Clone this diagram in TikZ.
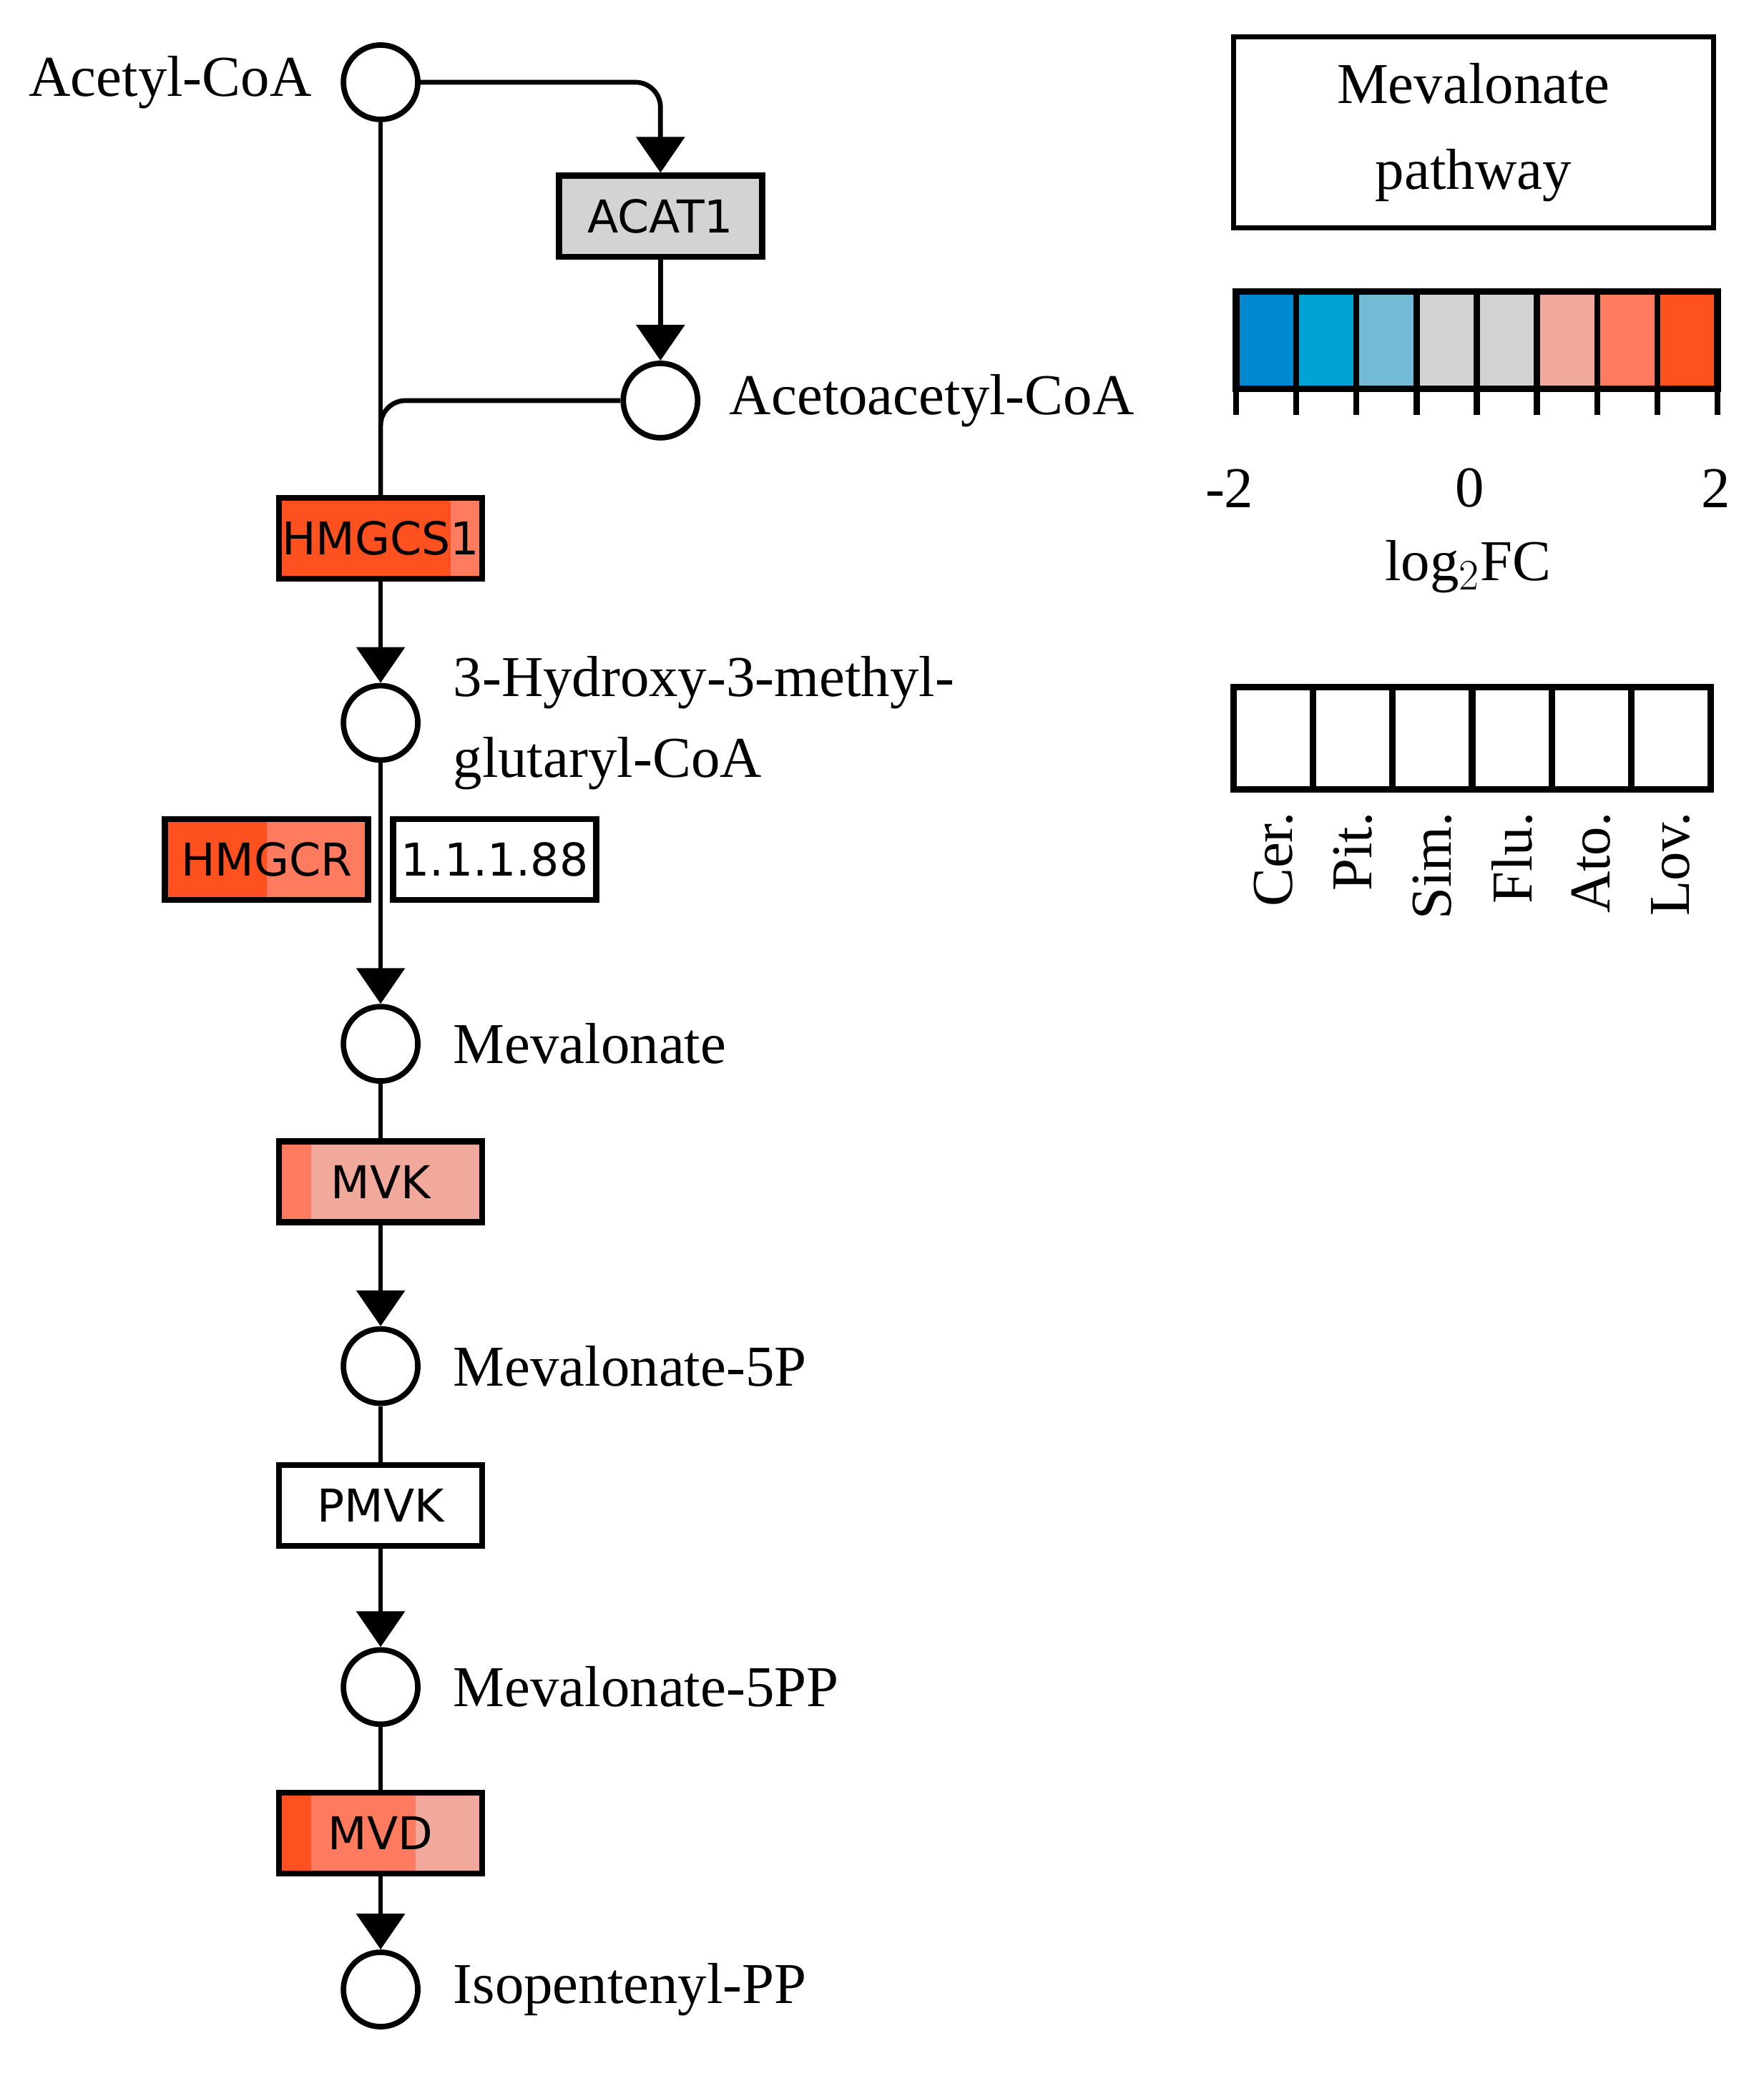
\documentclass[tikz,border=0pt]{standalone}
\usepackage{fontspec}
\setmainfont{Liberation Serif}
\newfontfamily\genefont{DejaVu Sans}
\usetikzlibrary{positioning,calc,arrows.meta}
\definecolor{fcA}{HTML}{0088D1}
\definecolor{fcB}{HTML}{00A3D3}
\definecolor{fcC}{HTML}{73BAD6}
\definecolor{fcD}{HTML}{D3D3D3}
\definecolor{fcE}{HTML}{F1A99B}
\definecolor{fcF}{HTML}{FF7B5F}
\definecolor{fcG}{HTML}{FF5020}
\tikzset{
  cpd/.style={circle, draw, line width=2.2pt, minimum size=1.04cm, inner sep=0pt},
  gene/.style={draw, line width=2.4pt, minimum width=2.84cm, minimum height=1.13cm, inner sep=0pt, font=\genefont\fontsize{18}{20}\selectfont},
  lbl/.style={font=\fontsize{23}{28}\selectfont, inner sep=0pt},
  link/.style={line width=1.9pt, rounded corners=0.35cm},
  rxn/.style={link, -{Triangle[width=0.67cm,length=0.5cm]}},
}
% six-part fill of a gene box
\newcommand{\genefill}[2]{%
  \foreach \c [count=\i from 0] in {#2} {
    \fill[\c] ($(#1.south west)!{\i/6}!(#1.south east)$) rectangle ($(#1.north west)!{(\i+1)/6}!(#1.north east)$);
  }}
\begin{document}
\begin{tikzpicture}[x=0.01854cm, y=-0.01854cm]
\useasboundingbox (0,0) rectangle (1330,1572.8);
% compounds
\node[cpd] (acoa) at (287,62) {};
\node[cpd] (aacoa) at (498,302) {};
\node[cpd] (hmgcoa) at (287,545) {};
\node[cpd] (mev) at (287,787) {};
\node[cpd] (mev5p) at (287,1030) {};
\node[cpd] (mev5pp) at (287,1272) {};
\node[cpd] (ipp) at (287,1500) {};
\node[lbl, left=0.4cm of acoa] {Acetyl-CoA};
\node[lbl, right=0.4cm of aacoa] {Acetoacetyl-CoA};
\node[lbl, right=0.45cm of hmgcoa, align=left] (hmglbl) {3-Hydroxy-3-methyl-\\[4pt]glutaryl-CoA};
\node[lbl, right=0.45cm of mev] {Mevalonate};
\node[lbl, right=0.45cm of mev5p] {Mevalonate-5P};
\node[lbl, right=0.45cm of mev5pp] {Mevalonate-5PP};
\node[lbl, right=0.45cm of ipp] {Isopentenyl-PP};
% genes
\node[gene, fill=fcD] (acat) at (498,163) {ACAT1};
\node[gene] (hmgcs) at (287,406) {};
\node[gene] (hmgcr) at (201,648) {};
\node[gene, fill=white] (ec) at (373,648) {1.1.1.88};
\node[gene] (mvk) at (287,891) {};
\node[gene, fill=white] (pmvk) at (287,1135) {PMVK};
\node[gene] (mvd) at (287,1382) {};
\genefill{hmgcs}{fcG,fcG,fcG,fcG,fcG,fcF}
\genefill{hmgcr}{fcG,fcG,fcG,fcF,fcF,fcF}
\genefill{mvk}{fcF,fcE,fcE,fcE,fcE,fcE}
\genefill{mvd}{fcG,fcF,fcF,fcF,fcE,fcE}
\foreach \g/\t in {hmgcs/HMGCS1, hmgcr/HMGCR, mvk/MVK, mvd/MVD}
  \node[gene] at (\g) {\t};
% reactions
\draw[rxn] (acoa.east) -| (acat.north);
\draw[rxn] (acat.south) -- (aacoa.north);
\draw[link] (acoa.south) -- (hmgcs.north);
\draw[link] (aacoa.west) -| (hmgcs.north);
\draw[rxn] (hmgcs.south) -- (hmgcoa.north);
\draw[rxn] (hmgcoa.south) -- (mev.north);
\draw[link] (mev.south) -- (mvk.north);
\draw[rxn] (mvk.south) -- (mev5p.north);
\draw[link] (mev5p.south) -- (pmvk.north);
\draw[rxn] (pmvk.south) -- (mev5pp.north);
\draw[link] (mev5pp.south) -- (mvd.north);
\draw[rxn] (mvd.south) -- (ipp.north);
% legend: title
\node[draw, line width=2pt, minimum width=6.71cm, minimum height=2.67cm, align=center, lbl, inner sep=0pt] (title) at (1111,100) {Mevalonate\\[6pt]pathway};
% legend: colour scale
\foreach \c [count=\i from 0] in {fcA,fcB,fcC,fcD,fcD,fcE,fcF,fcG}
  \fill[\c] (932+\i*45.375,220) rectangle (932+\i*45.375+45.375,293);
\foreach \i in {0,...,8}
  \draw[line width=2.4pt] (932+\i*45.375,220) -- (932+\i*45.375,313);
\draw[line width=2.6pt] (932,220) rectangle (1295,293);
\node[lbl] (lo) at (927,368) {-2};
\node[lbl] (mid) at (1108,368) {0};
\node[lbl] (hi) at (1294,368) {2};
\node[lbl] (fc) at (1107,427) {log$_2$FC};
% legend: treatments
\foreach \t [count=\i from 0] in {Cer.,Pit.,Sim.,Flu.,Ato.,Lov.} {
  \draw[line width=2.6pt] (930+\i*60,518) rectangle (990+\i*60,595);
  \node[lbl, rotate=90, anchor=east] (trt\i) at (960+\i*60,612) {\t};
}
\end{tikzpicture}
\end{document}
